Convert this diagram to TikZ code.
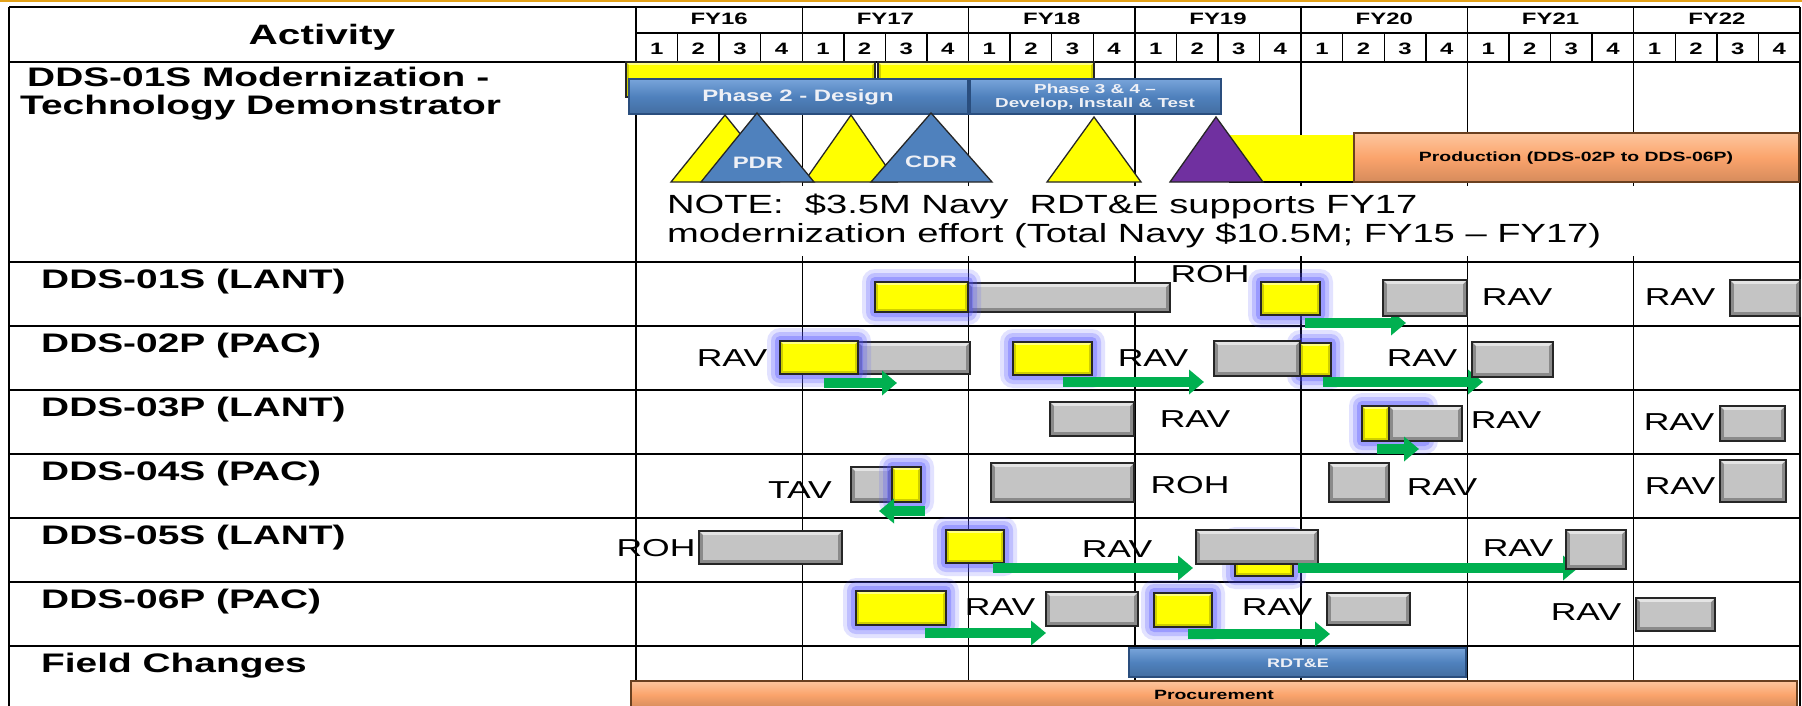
\documentclass[tikz,border=0pt]{standalone}
\usepackage{fontspec}
\setmainfont{Liberation Sans}[FakeStretch=1.45]
\usetikzlibrary{arrows.meta}
\definecolor{ylw}{HTML}{FFFF00}
\definecolor{ylwd}{HTML}{CFCF00}
\definecolor{gry}{HTML}{C4C4C4}
\definecolor{gryd}{HTML}{8A8A8A}
\definecolor{gryl}{HTML}{E4E4E4}
\definecolor{bluebar}{HTML}{4F81BD}
\definecolor{bluebarl}{HTML}{78A4DA}
\definecolor{bluebard}{HTML}{2A4E7E}
\definecolor{orng}{HTML}{FBA46C}
\definecolor{orngl}{HTML}{FDC69E}
\definecolor{orngd}{HTML}{6A4020}
\definecolor{purp}{HTML}{7030A0}
\definecolor{grn}{HTML}{00B050}
\definecolor{glowc}{HTML}{5050FF}
\definecolor{topline}{HTML}{E3A21A}
\definecolor{paletxt}{HTML}{EEF0F6}
\tikzset{
  grid/.style={line width=1.4pt, black},
  lbl/.style={font=\fontsize{24.5}{28}\selectfont, inner sep=0pt},
  rowlbl/.style={font=\bfseries\fontsize{26.8}{30}\selectfont, anchor=base west, inner sep=0pt},
  fylbl/.style={font=\bfseries\fontsize{16.5}{18}\selectfont, anchor=base, inner sep=0pt},
  garrow/.style={grn, line width=10pt, -{Triangle[length=15pt, width=24pt]}},
  tri/.style={line width=1.3pt, draw=black!85, line join=miter},
  bartxt/.style={font=\bfseries\fontsize{13.4}{15}\selectfont, inner sep=0pt},
  whitetxt/.style={text=paletxt, font=\bfseries, inner sep=0pt},
}
\newcommand\glowbox[4]{%
  \fill[glowc, opacity=0.16, rounded corners=13pt] (#1-13,#2-13) rectangle (#3+13,#4+13);
  \fill[glowc, opacity=0.24, rounded corners=9pt] (#1-9,#2-9) rectangle (#3+9,#4+9);
  \fill[glowc, opacity=0.32, rounded corners=5pt] (#1-5,#2-5) rectangle (#3+5,#4+5);}
\newcommand\gbox[4]{%
  \fill[gryd] (#1,#2) rectangle (#3,#4);
  \fill[gryl] (#1,#2) -- (#3,#2) -- (#3-4,#2+4) -- (#1+4,#2+4) -- cycle;
  \fill[gry] (#1+4,#2+4) rectangle (#3-4,#4-4);
  \draw[line width=1.3pt, black!85] (#1,#2) rectangle (#3,#4);}
\newcommand\ybox[4]{%
  \fill[ylwd] (#1,#2) rectangle (#3,#4);
  \fill[ylw!50!white] (#1,#2) -- (#3,#2) -- (#3-3,#2+3) -- (#1+3,#2+3) -- cycle;
  \fill[ylw] (#1+3,#2+3) rectangle (#3-3,#4-3);
  \draw[line width=1.3pt, black!85] (#1,#2) rectangle (#3,#4);}
\newcommand\bbar[4]{%
  \shade[top color=bluebarl, bottom color=bluebar!85!black, middle color=bluebar] (#1,#2) rectangle (#3,#4);
  \draw[line width=1.3pt, bluebard] (#1,#2) rectangle (#3,#4);}
\newcommand\obar[4]{%
  \shade[top color=orngl, bottom color=orng!85!black, middle color=orng] (#1,#2) rectangle (#3,#4);
  \draw[line width=1.3pt, orngd] (#1,#2) rectangle (#3,#4);}
\begin{document}
\begin{tikzpicture}[x=1pt, y=-1pt]
\useasboundingbox (0,0) rectangle (1802,706);
\fill[white] (0,0) rectangle (1802,706);
\fill[topline] (0,0) rectangle (1802,2.5);

% ---------- grid ----------
\foreach \k in {0,...,7} \draw[grid] ({636+166.286*\k},7) -- ({636+166.286*\k},706);
\foreach \k in {1,...,27} \draw[grid] ({636+41.5714*\k},33) -- ({636+41.5714*\k},62);
\draw[grid] (9,7) -- (9,706);
\draw[grid] (9,7) -- (1800,7);
\draw[grid] (636,33) -- (1800,33);
\foreach \yy in {62,262,326,390,454,518,582,646} \draw[grid] (9,\yy) -- (1800,\yy);

% ---------- header ----------
\node[rowlbl, font=\bfseries\fontsize{28}{30}\selectfont, anchor=base] (act) at (322,45) {Activity};
\foreach \y [count=\i from 0] in {16,...,22}
  \node[fylbl] (fy\y) at ({636+166.286*(\i+0.5)},25) {FY\y};
\foreach \k in {0,...,27}{
  \pgfmathtruncatemacro\q{mod(\k,4)+1}
  \node[fylbl] (q\k) at ({636+41.5714*(\k+0.5)},55) {\q};}

% ---------- row labels ----------
\node[rowlbl] (m1) at (27,87) {DDS-01S Modernization -};
\node[rowlbl] (m2) at (20,115) {Technology Demonstrator};
\node[rowlbl] (r1) at (41,288) {DDS-01S (LANT)};
\node[rowlbl] (r2) at (41,352) {DDS-02P (PAC)};
\node[rowlbl] (r3) at (41,416) {DDS-03P (LANT)};
\node[rowlbl] (r4) at (41,480) {DDS-04S (PAC)};
\node[rowlbl] (r5) at (41,544) {DDS-05S (LANT)};
\node[rowlbl] (r6) at (41,608) {DDS-06P (PAC)};
\node[rowlbl] (r7) at (41,672) {Field Changes};

% ---------- modernization row ----------
\ybox{626}{62}{875}{97}
\ybox{878}{62}{1094}{97}
\bbar{629}{79}{968}{114}
\node[whitetxt, font=\bfseries\fontsize{16.5}{18}\selectfont] (ph2) at (798,97) {Phase 2 - Design};
\bbar{970}{79}{1221}{114}
\node[whitetxt, font=\bfseries\fontsize{13}{14}\selectfont, align=center] (ph34) at (1095,97) {Phase 3 \& 4 –\\Develop, Install \& Test};

\filldraw[tri, fill=ylw] (725,115) -- (779,182) -- (671,182) -- cycle;
\filldraw[tri, fill=ylw] (851,115) -- (897,182) -- (804,182) -- cycle;
\filldraw[tri, fill=bluebar] (757,113) -- (814,182) -- (701,182) -- cycle;
\node[whitetxt, font=\bfseries\fontsize{16.5}{18}\selectfont] (pdr) at (758,163) {PDR};
\filldraw[tri, fill=bluebar] (931,113) -- (992,182) -- (871,182) -- cycle;
\node[whitetxt, font=\bfseries\fontsize{16.5}{18}\selectfont] (cdr) at (931,162) {CDR};
\filldraw[tri, fill=ylw] (1094,117) -- (1141,182) -- (1047,182) -- cycle;
\fill[ylw] (1229,135) rectangle (1354,182);
\draw[line width=1.3pt] (1229,182) -- (1354,182);
\filldraw[tri, fill=purp] (1216,117) -- (1263,182) -- (1170,182) -- cycle;
\obar{1354}{133}{1799}{182}
\node[bartxt] (prod) at (1576,158) {Production (DDS-02P to DDS-06P)};

\fill[white] (642,186) rectangle (1796,256);
\node[lbl, font=\fontsize{26.3}{29}\selectfont, anchor=base west] (note1) at (667,213) {NOTE:\ \ \$3.5M Navy\ \ RDT\&E supports FY17};
\node[lbl, font=\fontsize{26.3}{29}\selectfont, anchor=base west] (note2) at (667,242) {modernization effort (Total Navy \$10.5M; FY15 – FY17)};

% ---------- DDS-01S ----------
\gbox{968}{283}{1170}{312}
\glowbox{875}{282}{968}{312}
\ybox{875}{282}{968}{312}
\node[lbl] (a1) at (1210,274) {ROH};
\glowbox{1261}{282}{1320}{315}
\ybox{1261}{282}{1320}{315}
\draw[garrow] (1305,323) -- (1406,323);
\gbox{1383}{280}{1467}{316}
\node[lbl] (a2) at (1517,297) {RAV};
\node[lbl] (a3) at (1680,297) {RAV};
\gbox{1730}{280}{1800}{316}

% ---------- DDS-02P ----------
\node[lbl] (b1) at (732,358) {RAV};
\gbox{858}{342}{970}{374}
\glowbox{780}{341}{858}{374}
\ybox{780}{341}{858}{374}
\draw[garrow] (824,383) -- (897,383);
\glowbox{1013}{342}{1092}{375}
\ybox{1013}{342}{1092}{375}
\node[lbl] (b2) at (1153,358) {RAV};
\draw[garrow] (1063,382) -- (1204,382);
\glowbox{1300}{343}{1331}{376}
\gbox{1214}{341}{1300}{376}
\ybox{1300}{343}{1331}{376}
\node[lbl] (b3) at (1422,358) {RAV};
\draw[garrow] (1323,382) -- (1483,382);
\gbox{1472}{342}{1553}{377}

% ---------- DDS-03P ----------
\gbox{1050}{402}{1134}{436}
\node[lbl] (c1) at (1195,419) {RAV};
\glowbox{1362}{406}{1425}{441}
\ybox{1362}{406}{1389}{441}
\gbox{1389}{406}{1462}{441}
\draw[garrow] (1377,449) -- (1419,449);
\node[lbl] (c2) at (1506,420) {RAV};
\node[lbl] (c3) at (1679,422) {RAV};
\gbox{1720}{406}{1785}{441}

% ---------- DDS-04S ----------
\node[lbl] (d1) at (800,490) {TAV};
\gbox{851}{467}{892}{502}
\glowbox{892}{467}{921}{502}
\ybox{892}{467}{921}{502}
\draw[garrow] (925,511) -- (879,511);
\gbox{991}{463}{1134}{502}
\node[lbl] (d2) at (1190,485) {ROH};
\gbox{1329}{463}{1389}{502}
\node[lbl] (d3) at (1442,487) {RAV};
\node[lbl] (d4) at (1680,486) {RAV};
\gbox{1720}{460}{1786}{502}

% ---------- DDS-05S ----------
\node[lbl] (e1) at (656,548) {ROH};
\gbox{699}{531}{842}{564}
\glowbox{946}{530}{1004}{563}
\ybox{946}{530}{1004}{563}
\draw[garrow] (993,568) -- (1193,568);
\node[lbl] (e2) at (1117,549) {RAV};
\glowbox{1235}{540}{1293}{576}
\ybox{1235}{540}{1293}{576}
\gbox{1196}{530}{1318}{564}
\draw[garrow] (1298,568) -- (1578,568);
\node[lbl] (e3) at (1518,548) {RAV};
\gbox{1566}{530}{1626}{569}

% ---------- DDS-06P ----------
\glowbox{856}{591}{946}{625}
\ybox{856}{591}{946}{625}
\node[lbl] (f1) at (1000,607) {RAV};
\gbox{1046}{592}{1138}{626}
\draw[garrow] (925,633) -- (1046,633);
\glowbox{1154}{593}{1212}{627}
\ybox{1154}{593}{1212}{627}
\node[lbl] (f2) at (1277,607) {RAV};
\gbox{1327}{593}{1410}{625}
\draw[garrow] (1188,634) -- (1330,634);
\node[lbl] (f3) at (1586,612) {RAV};
\gbox{1636}{598}{1715}{631}

% ---------- Field changes ----------
\bbar{1129}{648}{1466}{677}
\node[whitetxt, font=\bfseries\fontsize{12.4}{14}\selectfont] (rdte) at (1298,663) {RDT\&E};
\obar{631}{681}{1797}{708}
\node[bartxt] (proc) at (1214,695) {Procurement};
\end{tikzpicture}
\end{document}
